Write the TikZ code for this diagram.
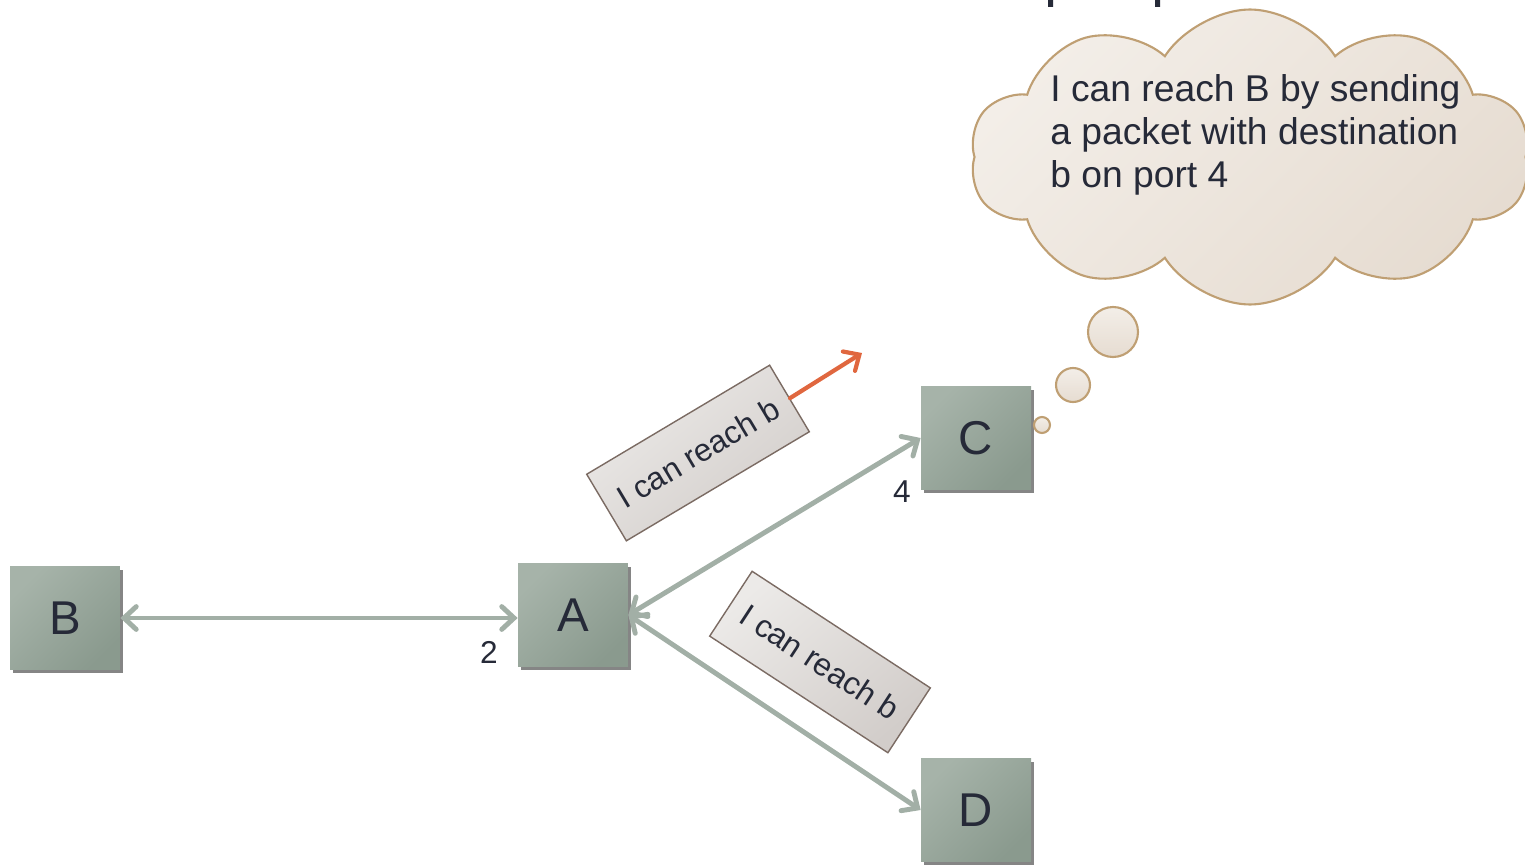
\documentclass[tikz,border=0pt]{standalone}
\usepackage{fontspec}
\setmainfont{Liberation Sans}
\usetikzlibrary{arrows.meta,shapes.symbols,shadows}
\definecolor{linkgray}{HTML}{A2AFA6}
\definecolor{boxgray}{HTML}{A6B3A9}
\definecolor{boxdark}{HTML}{8A9A8E}
\definecolor{textdark}{HTML}{262A38}
\definecolor{msgtop}{HTML}{ECEAE8}
\definecolor{msgbottom}{HTML}{D2CDCA}
\definecolor{msgline}{HTML}{7B6B63}
\definecolor{announcered}{HTML}{E0673F}
\definecolor{cloudline}{HTML}{BF9F73}
\definecolor{cloudtop}{HTML}{F3EEE8}
\definecolor{cloudbottom}{HTML}{E6DCD1}

\begin{document}
\begin{tikzpicture}[x=0.02cm,y=-0.02cm,
router/.style={minimum width=2.2cm,minimum height=2.06cm,top color=boxgray,bottom color=boxdark,shading angle=45,
  drop shadow={shadow xshift=1.6pt,shadow yshift=-2pt,opacity=0.6,fill=black!80},
  font=\fontsize{27}{30}\selectfont,text=textdark},
link/.style={draw=linkgray,line width=2.8pt,line cap=round,
  {Straight Barb[length=7pt,width=13pt,line cap=round]}-{Straight Barb[length=7pt,width=13pt,line cap=round]}},
msg/.style={draw=msgline,line width=0.8pt,top color=msgtop,bottom color=msgbottom,shading angle=40,
  minimum width=4.26cm,minimum height=1.55cm,font=\fontsize{18}{20}\selectfont,text=textdark},
announce/.style={draw=announcered,line width=2.4pt,line cap=round,-{Straight Barb[length=7pt,width=13pt,line cap=round]}},
port/.style={font=\fontsize{18}{20}\selectfont,text=textdark},
bubble/.style={circle,draw=cloudline,line width=1.2pt,top color=cloudtop,bottom color=cloudbottom,inner sep=0pt}]
\useasboundingbox (0,0) rectangle (1525,865);
\fill[textdark] (1048,0) rectangle (1053,7) (1155,0) rectangle (1160,7);
\node[router] (B) at (65,618) {B};
\node[router] (A) at (573,615) {A};
\node[router] (C) at (976,438) {C};
\node[router] (D) at (976,810) {D};
\draw[link] (B.east) -- (B.east -| A.west);
\draw[link] (A.east) -- (C.west);
\draw[link] (A.east) -- (D.west);
\node[port] (p2) at (489,652) {2};
\node[port] (p4) at (902,492) {4};
\node[msg,rotate=30.8] (m1) at (698,453) {I can reach b};
\node[msg,rotate=-33.2] (m2) at (820,662) {I can reach b};
\coordinate (m1tip) at (862,353);
\draw[announce] (m1.east) -- (m1tip);
\node[cloud,cloud puffs=10,cloud puff arc=115,aspect=1.9,draw=cloudline,line width=1.2pt,
  top color=cloudtop,bottom color=cloudbottom,shading angle=45,
  minimum width=11.2cm,minimum height=5.9cm] (think) at (1250,157) {};
\node[align=left,anchor=north west,inner sep=0pt,font=\fontsize{21.2}{24.5}\selectfont,text=textdark]
  (thinktext) at (1050,74) {I can reach B by sending\\a packet with destination\\b on port 4};
\node[bubble,minimum size=1cm] (t1) at (1113,332) {};
\node[bubble,minimum size=0.68cm] (t2) at (1073,385) {};
\node[bubble,minimum size=0.32cm] (t3) at (1042,425) {};
\end{tikzpicture}
\end{document}
